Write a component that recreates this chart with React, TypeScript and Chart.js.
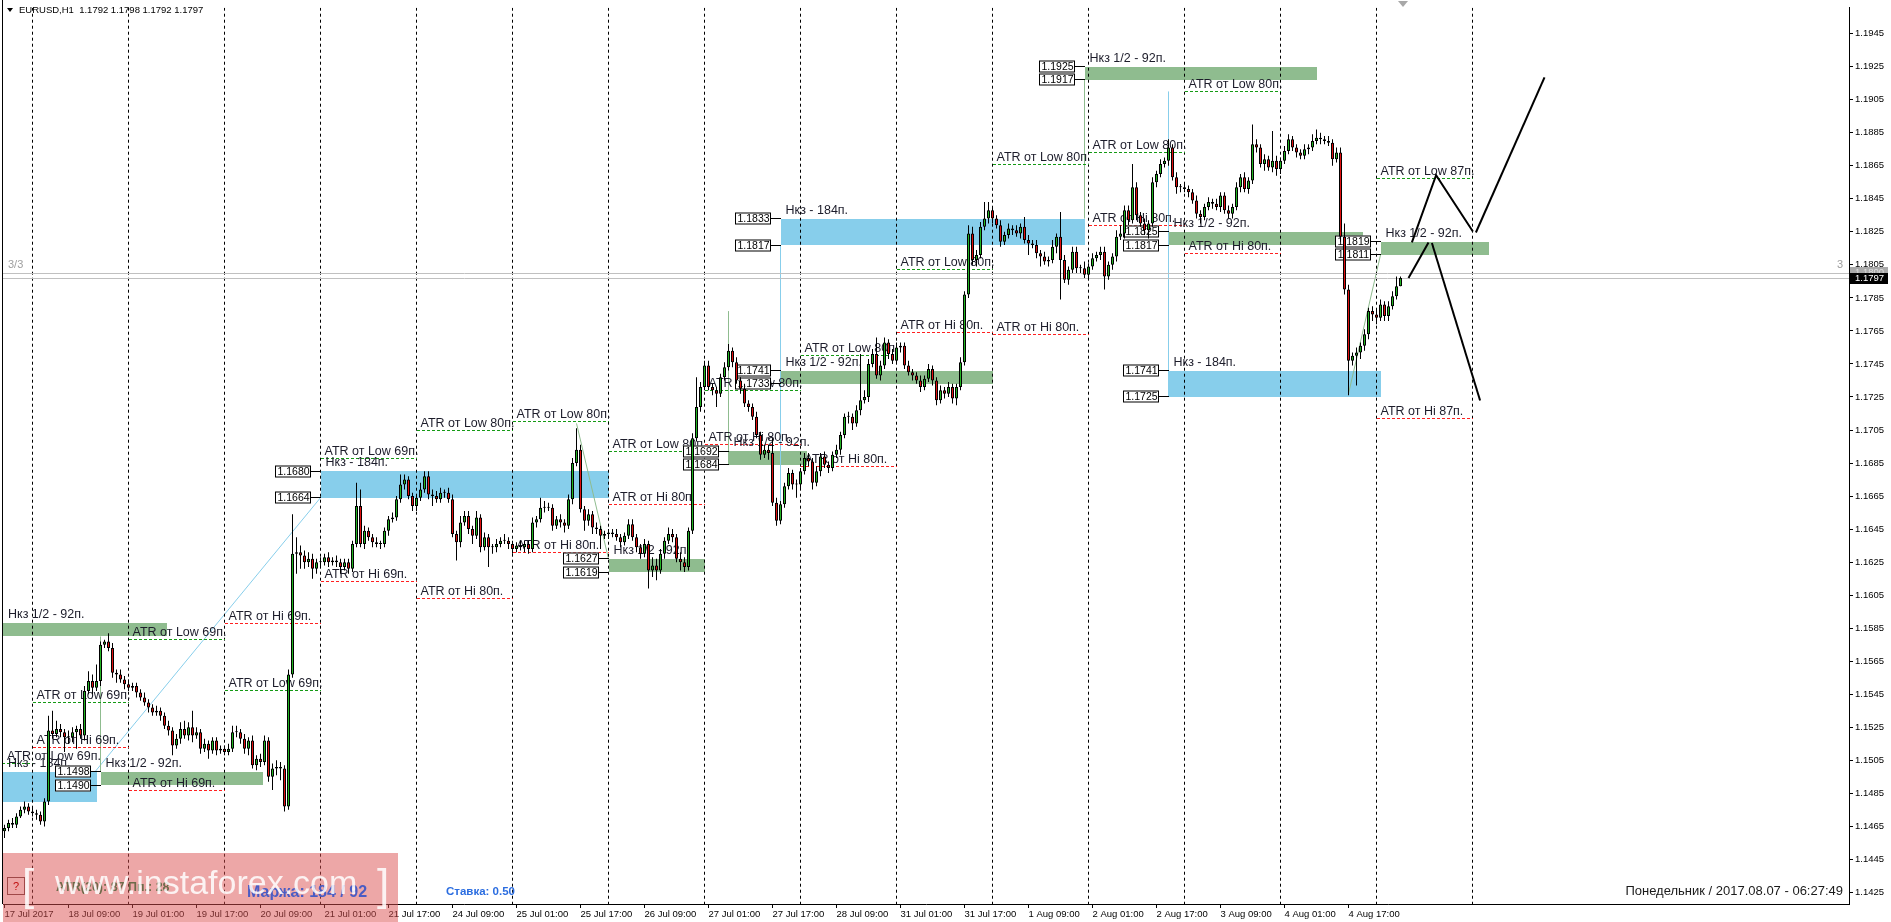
import React, { useEffect, useRef } from "react";
import { Chart, registerables } from "chart.js";

Chart.register(...registerables);

// ---------------- H1 candles, in pips (1462 => 1.1462) ----------------
const FIRST_OPEN = 1462;

const close17Jul = [1464, 1467, 1466, 1471, 1475, 1477, 1474];
const upWick17Jul = [2, 2, 3, 2, 2, 3, 2];
const downWick17Jul = [4, 2, 2, 2, 1, 2, 2];

const close18Jul = [1473, 1472, 1468, 1480, 1523, 1521, 1524, 1522, 1519, 1519, 1522, 1524, 1520, 1547, 1553, 1549, 1553, 1575, 1577, 1573, 1558, 1557, 1554, 1551];
const upWick18Jul = [3, 2, 2, 2, 9, 12, 5, 3, 2, 4, 3, 2, 3, 3, 6, 4, 10, 2, 1, 5, 3, 2, 3, 2];
const downWick18Jul = [2, 3, 2, 3, 2, 3, 2, 3, 9, 4, 3, 10, 2, 3, 2, 4, 2, 3, 2, 2, 3, 5, 2, 3];

const close19Jul = [1549, 1550, 1546, 1543, 1540, 1537, 1534, 1535, 1532, 1526, 1523, 1514, 1518, 1524, 1520, 1525, 1520, 1522, 1512, 1515, 1511, 1517, 1511, 1512];
const upWick19Jul = [3, 2, 2, 2, 3, 2, 2, 3, 2, 2, 3, 2, 3, 4, 5, 3, 10, 3, 2, 3, 2, 2, 2, 2];
const downWick19Jul = [2, 2, 3, 2, 2, 3, 2, 2, 3, 2, 3, 6, 2, 3, 2, 3, 4, 2, 3, 2, 5, 2, 3, 2];

const close20Jul = [1510, 1512, 1522, 1522, 1518, 1512, 1517, 1502, 1506, 1504, 1517, 1495, 1500, 1501, 1500, 1477, 1557, 1630, 1631, 1629, 1625, 1627, 1621, 1625];
const upWick20Jul = [2, 3, 4, 4, 2, 3, 2, 3, 2, 3, 3, 2, 3, 4, 3, 2, 3, 24, 9, 4, 3, 4, 3, 2];
const downWick20Jul = [2, 2, 2, 3, 3, 3, 4, 2, 3, 3, 2, 3, 8, 4, 7, 3, 2, 2, 12, 8, 4, 3, 6, 3];

const close21Jul = [1625, 1628, 1625, 1626, 1625, 1622, 1625, 1621, 1636, 1659, 1636, 1644, 1640, 1637, 1636, 1636, 1644, 1651, 1652, 1663, 1672, 1675, 1665, 1659];
const upWick21Jul = [3, 2, 3, 2, 3, 2, 2, 2, 2, 14, 10, 3, 2, 2, 3, 2, 2, 2, 3, 2, 6, 3, 2, 2];
const downWick21Jul = [3, 2, 3, 2, 3, 4, 2, 3, 2, 2, 2, 3, 2, 3, 2, 3, 2, 3, 2, 2, 2, 3, 2, 3];

const close24Jul = [1664, 1669, 1677, 1666, 1665, 1663, 1667, 1667, 1663, 1642, 1637, 1649, 1653, 1645, 1641, 1652, 1634, 1640, 1634, 1634, 1636, 1638, 1638, 1636];
const upWick24Jul = [2, 4, 3, 3, 3, 3, 3, 2, 3, 3, 2, 4, 3, 3, 2, 4, 2, 3, 2, 2, 3, 2, 4, 2];
const downWick24Jul = [3, 2, 2, 3, 6, 2, 2, 3, 2, 2, 11, 3, 2, 3, 5, 2, 3, 2, 12, 4, 3, 2, 2, 3];

const close25Jul = [1633, 1635, 1634, 1636, 1633, 1649, 1651, 1658, 1658, 1658, 1647, 1651, 1649, 1647, 1663, 1685, 1693, 1657, 1650, 1654, 1646, 1645, 1641, 1642];
const upWick25Jul = [2, 2, 3, 2, 2, 3, 2, 6, 4, 3, 2, 2, 3, 2, 3, 3, 13, 3, 2, 3, 2, 3, 2, 2];
const downWick25Jul = [3, 2, 2, 3, 3, 2, 3, 2, 3, 2, 3, 2, 3, 4, 2, 3, 2, 2, 6, 3, 4, 3, 8, 2];

const close26Jul = [1643, 1642, 1640, 1637, 1641, 1648, 1640, 1634, 1630, 1636, 1620, 1623, 1620, 1630, 1638, 1642, 1640, 1627, 1625, 1622, 1644, 1700, 1719, 1731];
const upWick26Jul = [2, 2, 3, 2, 2, 3, 3, 2, 2, 3, 2, 5, 4, 3, 2, 4, 3, 2, 4, 3, 2, 3, 18, 3];
const downWick26Jul = [3, 2, 2, 3, 2, 2, 2, 3, 3, 2, 11, 4, 6, 2, 3, 2, 3, 2, 5, 3, 2, 2, 2, 3];

const close27Jul = [1744, 1731, 1729, 1727, 1737, 1743, 1753, 1746, 1735, 1730, 1721, 1719, 1713, 1702, 1690, 1693, 1691, 1661, 1650, 1660, 1671, 1679, 1672, 1672];
const upWick27Jul = [3, 3, 2, 2, 2, 3, 4, 2, 3, 2, 3, 2, 2, 3, 2, 3, 3, 9, 3, 2, 2, 3, 2, 3];
const downWick27Jul = [2, 2, 3, 8, 2, 2, 2, 3, 2, 3, 2, 3, 2, 2, 3, 2, 4, 2, 3, 2, 2, 2, 3, 8];

const close28Jul = [1680, 1688, 1686, 1673, 1680, 1689, 1684, 1682, 1690, 1693, 1702, 1713, 1713, 1709, 1717, 1723, 1725, 1745, 1751, 1738, 1744, 1758, 1751, 1747];
const upWick28Jul = [2, 3, 3, 2, 3, 2, 3, 2, 2, 3, 2, 2, 3, 2, 3, 28, 4, 3, 3, 10, 3, 3, 2, 3];
const downWick28Jul = [3, 2, 3, 4, 2, 3, 2, 3, 2, 2, 3, 2, 4, 4, 2, 3, 2, 3, 2, 2, 3, 2, 3, 2];

const close31Jul = [1755, 1756, 1744, 1740, 1738, 1735, 1731, 1736, 1742, 1735, 1723, 1729, 1727, 1731, 1724, 1731, 1746, 1787, 1824, 1808, 1811, 1828, 1833, 1838];
const upWick31Jul = [3, 2, 2, 3, 2, 2, 3, 2, 3, 2, 2, 3, 2, 3, 2, 2, 3, 2, 5, 4, 3, 3, 10, 5];
const downWick31Jul = [2, 3, 2, 2, 3, 2, 3, 2, 2, 3, 3, 2, 3, 2, 3, 4, 2, 2, 2, 3, 4, 2, 2, 3];

const close01Aug = [1833, 1829, 1819, 1823, 1827, 1826, 1824, 1828, 1820, 1818, 1817, 1812, 1810, 1807, 1808, 1816, 1822, 1808, 1796, 1802, 1813, 1803, 1803, 1799];
const upWick01Aug = [2, 2, 3, 2, 3, 2, 3, 2, 6, 3, 2, 3, 2, 3, 2, 4, 2, 15, 3, 2, 3, 3, 2, 4];
const downWick01Aug = [3, 2, 3, 2, 2, 3, 2, 3, 2, 7, 2, 3, 6, 2, 3, 2, 4, 24, 2, 3, 2, 3, 3, 2];

const close02Aug = [1804, 1809, 1811, 1813, 1798, 1805, 1810, 1822, 1824, 1838, 1832, 1852, 1835, 1830, 1826, 1830, 1855, 1860, 1866, 1868, 1876, 1858, 1852, 1852];
const upWick02Aug = [2, 3, 2, 3, 3, 2, 2, 4, 5, 3, 3, 14, 3, 2, 3, 2, 3, 2, 3, 2, 5, 2, 3, 2];
const downWick02Aug = [3, 2, 2, 3, 8, 2, 3, 3, 2, 3, 3, 2, 3, 2, 3, 5, 2, 3, 2, 2, 3, 2, 4, 3];

const close03Aug = [1851, 1849, 1844, 1836, 1834, 1840, 1843, 1842, 1840, 1847, 1838, 1836, 1840, 1852, 1858, 1851, 1856, 1878, 1876, 1866, 1869, 1864, 1868, 1863];
const upWick03Aug = [3, 2, 2, 3, 2, 2, 3, 2, 3, 2, 2, 3, 2, 3, 2, 3, 2, 12, 3, 2, 3, 2, 18, 3];
const downWick03Aug = [2, 3, 2, 3, 4, 2, 2, 3, 2, 3, 2, 3, 3, 2, 3, 2, 3, 2, 3, 2, 4, 2, 3, 4];

const close04Aug = [1868, 1874, 1881, 1876, 1873, 1871, 1875, 1876, 1880, 1882, 1881, 1880, 1879, 1869, 1873, 1822, 1790, 1747, 1750, 1752, 1756, 1763, 1777, 1775];
const upWick04Aug = [2, 3, 3, 2, 2, 2, 3, 2, 4, 5, 3, 2, 3, 2, 3, 3, 8, 3, 2, 3, 2, 3, 2, 3];
const downWick04Aug = [3, 2, 2, 2, 3, 2, 2, 3, 2, 2, 3, 2, 2, 4, 2, 3, 3, 21, 3, 18, 4, 3, 3, 4];

const close07Aug = [1773, 1781, 1774, 1780, 1786, 1792, 1797];
const upWick07Aug = [3, 3, 2, 3, 3, 6, 1];
const downWick07Aug = [4, 2, 3, 3, 2, 2, 0];

// ---------------- axes ----------------
const PRICE_TICKS = [1.1425, 1.1445, 1.1465, 1.1485, 1.1505, 1.1525, 1.1545, 1.1565, 1.1585, 1.1605, 1.1625, 1.1645, 1.1665, 1.1685, 1.1705, 1.1725, 1.1745, 1.1765, 1.1785, 1.1805, 1.1825, 1.1845, 1.1865, 1.1885, 1.1905, 1.1925, 1.1945];
const TIME_TICK_BARS = [0, 16, 32, 48, 64, 80, 96, 112, 128, 144, 160, 176, 192, 208, 224, 240, 256, 272, 288, 304, 320, 336];
const TIME_TICK_LABELS = ["17 Jul 2017", "18 Jul 09:00", "19 Jul 01:00", "19 Jul 17:00", "20 Jul 09:00", "21 Jul 01:00", "21 Jul 17:00", "24 Jul 09:00", "25 Jul 01:00", "25 Jul 17:00", "26 Jul 09:00", "27 Jul 01:00", "27 Jul 17:00", "28 Jul 09:00", "31 Jul 01:00", "31 Jul 17:00", "1 Aug 09:00", "2 Aug 01:00", "2 Aug 17:00", "3 Aug 09:00", "4 Aug 01:00", "4 Aug 17:00"];
const DAY_SEPARATOR_BARS = [7, 31, 55, 79, 103, 127, 151, 175, 199, 223, 247, 271, 295, 319, 343, 367];

const HEADER = "EURUSD,H1  1.1792 1.1798 1.1792 1.1797";
const BID = 1.1797;
const LEVEL_LINE = 1.18;

// ---------------- objects on the chart ----------------
// [startBar, endBar, upperPrice, lowerPrice, priceTags]
const BLUE_ZONES: any[] = [
  [-2, 23, 1.1498, 1.148, false],
  [79, 151, 1.168, 1.1664, true],
  [194, 270, 1.1833, 1.1817, true],
  [291, 344, 1.1741, 1.1725, true],
];
const GREEN_ZONES: any[] = [
  [-2, 40.5, 1.1588, 1.158, false],
  [24, 64.6, 1.1498, 1.149, true],
  [151, 175, 1.1627, 1.1619, true],
  [181, 200.5, 1.1692, 1.1684, true],
  [194, 247, 1.1741, 1.1733, true],
  [270, 328, 1.1925, 1.1917, true],
  [291, 339.6, 1.1825, 1.1817, true],
  [344, 371, 1.1819, 1.1811, true],
];
// [dayStartBar, price, atrPips]
const ATR_FROM_LOW: any[] = [
  [-17, 1.1503, 69], [7, 1.154, 69], [31, 1.1578, 69], [55, 1.1547, 69], [79, 1.1688, 69],
  [103, 1.1705, 80], [127, 1.171, 80], [151, 1.1692, 80], [175, 1.1729, 80], [199, 1.175, 80],
  [223, 1.1802, 80], [247, 1.1866, 80], [271, 1.1873, 80], [295, 1.191, 80], [343, 1.1857, 87],
];
const ATR_FROM_HI: any[] = [
  [7, 1.1513, 69], [31, 1.1487, 69], [55, 1.1588, 69], [79, 1.1613, 69],
  [103, 1.1603, 80], [127, 1.1631, 80], [151, 1.166, 80], [175, 1.1696, 80], [199, 1.1683, 80],
  [223, 1.1764, 80], [247, 1.1763, 80], [271, 1.1829, 80], [295, 1.1812, 80], [343, 1.1712, 87],
];
// [bar1, price1, bar2, price2]
const SKY_LINES: any[] = [
  [22.6, 1.1498, 79, 1.1664],
  [194, 1.1817, 194, 1.1649],
  [291, 1.191, 291, 1.1725],
];
const SAGE_LINES: any[] = [
  [24, 1.158, 24, 1.1498],
  [143, 1.1709, 151, 1.1627],
  [181, 1.1777, 181, 1.1684],
  [270, 1.1917, 270, 1.1833],
  [336, 1.1727, 344, 1.1811],
];
const FORECAST_PATHS: any[] = [
  [[351.0, 1.1797], [356.0, 1.18186]],
  [[351.85, 1.18186], [357.9, 1.18593], [367.1, 1.18252]],
  [[367.85, 1.18246], [385.0, 1.19185]],
  [[356.85, 1.18182], [368.9, 1.17229]],
];

// ---------------- build candle table ----------------
const CLOSES = [...close17Jul, ...close18Jul, ...close19Jul, ...close20Jul, ...close21Jul, ...close24Jul, ...close25Jul, ...close26Jul, ...close27Jul, ...close28Jul, ...close31Jul, ...close01Aug, ...close02Aug, ...close03Aug, ...close04Aug, ...close07Aug];
const UPS = [...upWick17Jul, ...upWick18Jul, ...upWick19Jul, ...upWick20Jul, ...upWick21Jul, ...upWick24Jul, ...upWick25Jul, ...upWick26Jul, ...upWick27Jul, ...upWick28Jul, ...upWick31Jul, ...upWick01Aug, ...upWick02Aug, ...upWick03Aug, ...upWick04Aug, ...upWick07Aug];
const DOWNS = [...downWick17Jul, ...downWick18Jul, ...downWick19Jul, ...downWick20Jul, ...downWick21Jul, ...downWick24Jul, ...downWick25Jul, ...downWick26Jul, ...downWick27Jul, ...downWick28Jul, ...downWick31Jul, ...downWick01Aug, ...downWick02Aug, ...downWick03Aug, ...downWick04Aug, ...downWick07Aug];

const P = (pips: number) => 1 + pips / 10000;
const CANDLES = CLOSES.map((c, i) => {
  const o = i === 0 ? FIRST_OPEN : CLOSES[i - 1];
  return { i, o: P(o), c: P(c), h: P(Math.max(o, c) + (UPS[i] || 0)), l: P(Math.min(o, c) - (DOWNS[i] || 0)) };
});

const FONT = '"Liberation Sans", Arial, sans-serif';
const X_MIN = -0.375;
const X_MAX = 461.125;
const Y_MIN = 1.1418;
const Y_MAX = 1.19607;

const mt4Objects = {
  id: "mt4Objects",
  beforeDatasetsDraw(chart: any) {
    const { ctx, chartArea: a, scales } = chart;
    const X = (v: number) => scales.x.getPixelForValue(v);
    const Y = (v: number) => scales.y.getPixelForValue(v);
    const R = (v: number) => Math.round(v - 0.5) + 0.5;
    ctx.save();
    ctx.beginPath();
    ctx.rect(a.left, a.top, a.right - a.left, a.bottom - a.top);
    ctx.clip();

    // zones
    const zone = (z: any, color: string) => {
      const x1 = Math.round(X(z[0]));
      const x2 = Math.round(X(z[1]));
      const y1 = Math.round(Y(z[2]));
      const y2 = Math.round(Y(z[3]));
      ctx.fillStyle = color;
      ctx.fillRect(x1, y1, x2 - x1, y2 - y1);
    };
    BLUE_ZONES.forEach((z) => zone(z, "#87ceeb"));
    GREEN_ZONES.forEach((z) => zone(z, "#8fbc8f"));

    // thin connection lines
    ctx.lineWidth = 1;
    const seg = (s: any, color: string) => {
      ctx.strokeStyle = color;
      ctx.beginPath();
      const vertical = s[0] === s[2];
      ctx.moveTo(vertical ? R(X(s[0])) : X(s[0]), Y(s[1]));
      ctx.lineTo(vertical ? R(X(s[2])) : X(s[2]), Y(s[3]));
      ctx.stroke();
    };
    SKY_LINES.forEach((s) => seg(s, "#87ceeb"));
    SAGE_LINES.forEach((s) => seg(s, "#8fbc8f"));

    // day separators
    ctx.strokeStyle = "#000";
    ctx.setLineDash([3, 3]);
    DAY_SEPARATOR_BARS.forEach((b) => {
      const x = R(X(b));
      ctx.beginPath();
      ctx.moveTo(x, a.top);
      ctx.lineTo(x, a.bottom);
      ctx.stroke();
    });

    // level line and bid line
    ctx.setLineDash([]);
    ctx.strokeStyle = "#c0c0c0";
    [LEVEL_LINE, BID].forEach((p) => {
      const y = R(Y(p));
      ctx.beginPath();
      ctx.moveTo(a.left, y);
      ctx.lineTo(a.right, y);
      ctx.stroke();
    });

    // ATR lines
    ctx.font = `12.5px ${FONT}`;
    ctx.textBaseline = "alphabetic";
    ctx.textAlign = "left";
    const atr = (row: any, color: string, label: string) => {
      const y = R(Y(row[1]));
      const x1 = X(row[0]);
      const x2 = X(row[0] + 24);
      ctx.strokeStyle = color;
      ctx.setLineDash([3, 2]);
      ctx.beginPath();
      ctx.moveTo(Math.round(x1), y);
      ctx.lineTo(Math.round(x2), y);
      ctx.stroke();
      ctx.setLineDash([]);
      ctx.fillStyle = "#1c1c2a";
      ctx.fillText(label, Math.max(x1, a.left) + 4, y - 4);
    };
    ATR_FROM_LOW.forEach((r) => atr(r, "#159a15", `ATR от Low ${r[2]}п.`));
    ATR_FROM_HI.forEach((r) => atr(r, "#ff2020", `ATR от Hi ${r[2]}п.`));

    // zone captions and price tags
    const caption = (z: any, text: string) => {
      const x = Math.max(X(z[0]), a.left) + 5;
      ctx.font = `12.5px ${FONT}`;
      ctx.fillStyle = "#1c1c2a";
      ctx.textAlign = "left";
      ctx.textBaseline = "alphabetic";
      ctx.fillText(text, x, Math.round(Y(z[2])) - 5);
      if (z[4]) {
        const xr = Math.round(X(z[0])) - 10;
        [z[2], z[3]].forEach((p: number) => {
          const y = R(Y(p));
          ctx.fillStyle = "#fff";
          ctx.fillRect(xr - 36, y - 6, 36, 12);
          ctx.strokeStyle = "#000";
          ctx.strokeRect(xr - 35.5, y - 5.5, 35, 11);
          ctx.beginPath();
          ctx.moveTo(xr, y);
          ctx.lineTo(Math.round(X(z[0])), y);
          ctx.stroke();
          ctx.fillStyle = "#000";
          ctx.font = `10.5px ${FONT}`;
          ctx.textAlign = "center";
          ctx.textBaseline = "middle";
          ctx.fillText(p.toFixed(4), xr - 17.5, y + 0.5);
        });
      }
    };
    BLUE_ZONES.forEach((z) => caption(z, "Нкз - 184п."));
    GREEN_ZONES.forEach((z) => caption(z, "Нкз 1/2 - 92п."));

    // "3/3" level captions
    ctx.font = `11px ${FONT}`;
    ctx.fillStyle = "#a0a0a0";
    ctx.textBaseline = "alphabetic";
    ctx.textAlign = "left";
    ctx.fillText("3/3", 8, Y(LEVEL_LINE) - 5);
    ctx.textAlign = "right";
    ctx.fillText("3", 1843, Y(LEVEL_LINE) - 5);
    ctx.restore();
  },
  afterDatasetsDraw(chart: any) {
    const { ctx, chartArea: a, scales } = chart;
    const X = (v: number) => scales.x.getPixelForValue(v);
    const Y = (v: number) => scales.y.getPixelForValue(v);
    ctx.save();
    ctx.beginPath();
    ctx.rect(a.left, a.top, a.right - a.left, a.bottom - a.top);
    ctx.clip();
    ctx.strokeStyle = "#000";
    ctx.lineWidth = 2;
    FORECAST_PATHS.forEach((path: any) => {
      ctx.beginPath();
      path.forEach((pt: any, k: number) => {
        if (k === 0) ctx.moveTo(X(pt[0]), Y(pt[1]));
        else ctx.lineTo(X(pt[0]), Y(pt[1]));
      });
      ctx.stroke();
    });
    ctx.restore();
  },
  afterDraw(chart: any) {
    const { ctx, chartArea: a, scales } = chart;
    const Y = (v: number) => scales.y.getPixelForValue(v);
    ctx.save();
    // left frame
    ctx.strokeStyle = "#000";
    ctx.lineWidth = 1;
    ctx.beginPath();
    ctx.moveTo(2.5, 0);
    ctx.lineTo(2.5, a.bottom);
    ctx.stroke();

    // header
    ctx.fillStyle = "#000";
    ctx.beginPath();
    ctx.moveTo(7, 8);
    ctx.lineTo(13, 8);
    ctx.lineTo(10, 12);
    ctx.closePath();
    ctx.fill();
    ctx.font = `9.5px ${FONT}`;
    ctx.textAlign = "left";
    ctx.textBaseline = "middle";
    ctx.fillText(HEADER, 19, 10);

    // chart shift marker
    ctx.fillStyle = "#a8a8a8";
    ctx.beginPath();
    ctx.moveTo(1398, 1);
    ctx.lineTo(1408, 1);
    ctx.lineTo(1403, 7);
    ctx.closePath();
    ctx.fill();

    // price boxes on the axis
    const yl = Math.round(Y(LEVEL_LINE));
    ctx.fillStyle = "#a9a9a9";
    ctx.fillRect(1850, yl - 6, 38, 10);
    ctx.fillStyle = "#dedede";
    ctx.font = `9.5px ${FONT}`;
    ctx.fillText(LEVEL_LINE.toFixed(4), 1855, yl - 1);
    const yb = Math.round(Y(BID));
    ctx.fillStyle = "#000";
    ctx.fillRect(1850, yb - 5, 38, 11);
    ctx.fillStyle = "#fff";
    ctx.fillText(BID.toFixed(4), 1855, yb + 0.5);

    // date / time status
    ctx.fillStyle = "#1a1a1a";
    ctx.font = `13px ${FONT}`;
    ctx.textAlign = "right";
    ctx.textBaseline = "alphabetic";
    ctx.fillText("Понедельник / 2017.08.07 - 06:27:49", 1843, 895);

    // banner
    ctx.fillStyle = "rgba(220, 80, 80, 0.5)";
    ctx.fillRect(3, 853, 395, 69);
    ctx.strokeStyle = "#a04848";
    ctx.strokeRect(7.5, 877.5, 17, 17);
    ctx.fillStyle = "#c01010";
    ctx.font = `11px ${FONT}`;
    ctx.textAlign = "center";
    ctx.textBaseline = "middle";
    ctx.fillText("?", 16, 886.5);

    ctx.textAlign = "left";
    ctx.textBaseline = "alphabetic";
    ctx.font = `bold 12.5px ${FONT}`;
    ctx.fillStyle = "#6e6a4a";
    ctx.fillText("ATR(20): 87 Пп.: 28", 56, 891);
    ctx.font = `bold 16px ${FONT}`;
    ctx.fillStyle = "#4a5cc4";
    ctx.fillText("Маржа: 184 / 92", 247, 897);

    ctx.fillStyle = "rgba(255,255,255,0.85)";
    ctx.font = `34px ${FONT}`;
    ctx.fillText("www.instaforex.com", 55, 894);
    ctx.font = `300 44px ${FONT}`;
    ctx.fillText("[", 22, 900);
    ctx.fillText("]", 377, 900);

    ctx.font = `bold 11.5px ${FONT}`;
    ctx.fillStyle = "#2b6de0";
    ctx.fillText("Ставка: 0.50", 446, 895);
    ctx.restore();
  },
};

export default function App() {
  const ref = useRef<HTMLCanvasElement>(null);
  useEffect(() => {
    document.body.style.margin = "0";
    const canvas = ref.current as HTMLCanvasElement;
    const bodies = CANDLES.map((k) => ({ x: k.i, y: [k.o, k.c] }));
    const wicks = CANDLES.map((k) => ({ x: k.i, y: [k.l, k.h] }));
    const colors = CANDLES.map((k) => (k.c >= k.o ? "#22b422" : "#e01010"));
    const chart = new Chart(canvas, {
      type: "bar",
      data: {
        datasets: [
          {
            label: "body",
            data: bodies as any,
            backgroundColor: colors,
            borderColor: "#000",
            borderWidth: 1,
            borderSkipped: false,
            barThickness: 3,
            grouped: false,
            minBarLength: 1,
            inflateAmount: 0,
            order: 0,
          } as any,
          {
            label: "wick",
            data: wicks as any,
            backgroundColor: "#000",
            borderWidth: 0,
            barThickness: 1,
            grouped: false,
            inflateAmount: 0,
            order: 1,
          } as any,
        ],
      },
      options: {
        responsive: false,
        animation: false,
        devicePixelRatio: 1,
        layout: { padding: { left: 3, top: 2, right: 0, bottom: 0 } },
        plugins: { legend: { display: false }, tooltip: { enabled: false } },
        scales: {
          x: {
            type: "linear",
            min: X_MIN,
            max: X_MAX,
            offset: false,
            afterBuildTicks: (s: any) => {
              s.ticks = TIME_TICK_BARS.map((v) => ({ value: v }));
            },
            afterFit: (s: any) => {
              s.height = 18;
            },
            ticks: {
              autoSkip: false,
              maxRotation: 0,
              minRotation: 0,
              align: "start",
              padding: 1,
              color: "#000",
              font: { family: FONT, size: 9.5 },
              callback: (_v: any, idx: number) => TIME_TICK_LABELS[idx],
            },
            grid: { display: true, drawOnChartArea: false, drawTicks: true, tickLength: 4, color: "#000", offset: false },
            border: { display: true, color: "#000" },
          },
          y: {
            type: "linear",
            position: "right",
            min: Y_MIN,
            max: Y_MAX,
            afterBuildTicks: (s: any) => {
              s.ticks = PRICE_TICKS.map((v) => ({ value: v }));
            },
            afterFit: (s: any) => {
              s.width = 42;
            },
            ticks: {
              padding: 2,
              color: "#000",
              font: { family: FONT, size: 9.5 },
              callback: (v: any) => Number(v).toFixed(4),
            },
            grid: { display: true, drawOnChartArea: false, drawTicks: true, tickLength: 4, color: "#000" },
            border: { display: true, color: "#000" },
          },
        },
      } as any,
      plugins: [mt4Objects as any],
    });
    return () => chart.destroy();
  }, []);
  return (
    <div style={{ position: "fixed", left: 0, top: 0, width: 1891, height: 922, background: "#fff" }}>
      <canvas ref={ref} width={1891} height={922} style={{ display: "block", width: 1891, height: 922 }} />
    </div>
  );
}
